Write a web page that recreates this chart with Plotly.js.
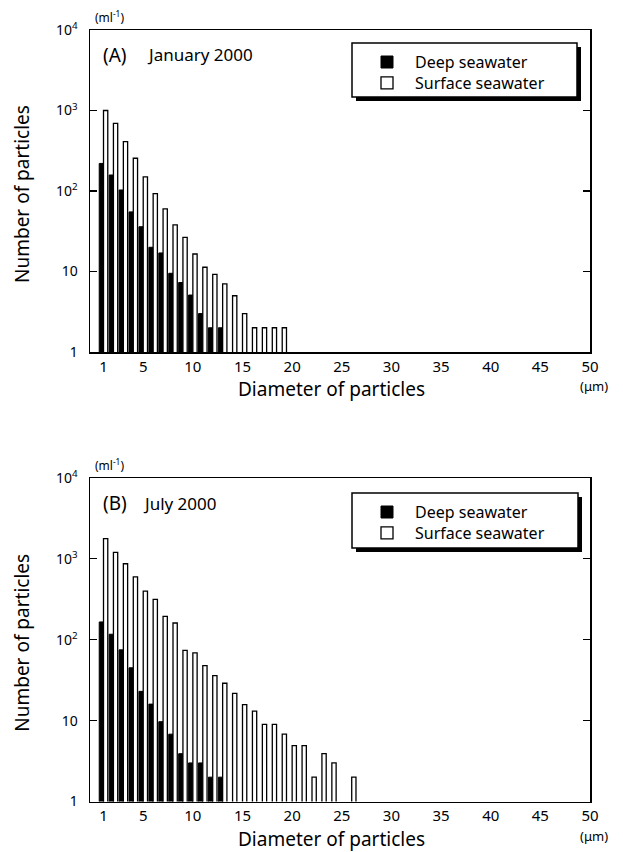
<!DOCTYPE html>
<html>
<head>
<meta charset="utf-8">
<script src="https://cdn.plot.ly/plotly-3.0.1.min.js"></script>
<style>html,body{margin:0;padding:0;background:#fff;}</style>
</head>
<body>
<div id="chart" style="width:623px;height:852px;"></div>
<script>
// ---- data (particle diameter in µm, number of particles per ml) ----
const deepJanDiam = [1,2,3,4,5,6,7,8,9,10,11,12,13];
const deepJan     = [220,158,103,55,36,20,17,9.5,7.3,5.1,3,2,2];
const surfJanDiam = [1,2,3,4,5,6,7,8,9,10,11,12,13,14,15,16,17,18,19];
const surfJan     = [1000,690,410,255,150,93,60,38,26.6,16.5,11.3,9.2,7,5,3,2,2,2,2];

const deepJulDiam = [1,2,3,4,5,6,7,8,9,10,11,12,13];
const deepJul     = [166,117,75,45,23,16,9.7,6.8,3.9,3,3,2,2];
const surfJulDiam = [1,2,3,4,5,6,7,8,9,10,11,12,13,14,15,16,17,18,19,20,21,22,23,24,26];
const surfJul     = [1780,1200,870,600,400,315,195,161,74,69,48,36,29,21.7,15.8,13.1,9,9,6.8,4.9,4.9,2,3.9,3,2];

const xTickVals = [1,5,10,15,20,25,30,35,40,45,50];
const yTickVals = [1,10,100,1000,10000];
const yTickText = ['1','10','10<sup>2</sup>','10<sup>3</sup>','10<sup>4</sup>'];
const seriesNames = ['Deep seawater','Surface seawater'];
const panelLabels = ['(A)','(B)'];
const panelDates = ['January 2000','July 2000'];
const xTitle = 'Diameter of particles';
const yTitle = 'Number of particles';
const yUnit = '(ml<sup>-1</sup>)';
const xUnit = '(\u03bcm)';

// ---- layout helpers ----
const W = 623, H = 852;
const px = x => x / W;
const py = y => 1 - y / H;
const FONT = 'Noto Sans, DejaVu Sans, sans-serif';

const deepStyle = {color:'black', line:{color:'black', width:1}};
const surfStyle = {color:'white', line:{color:'black', width:1.3}};

const traces = [
  {type:'bar', x:deepJanDiam, y:deepJan, name:seriesNames[0], marker:deepStyle, xaxis:'x', yaxis:'y'},
  {type:'bar', x:surfJanDiam, y:surfJan, name:seriesNames[1], marker:surfStyle, xaxis:'x', yaxis:'y'},
  {type:'bar', x:deepJulDiam, y:deepJul, name:seriesNames[0], marker:deepStyle, xaxis:'x2', yaxis:'y2'},
  {type:'bar', x:surfJulDiam, y:surfJul, name:seriesNames[1], marker:surfStyle, xaxis:'x2', yaxis:'y2'}
];

// panel geometry (px)
const panels = [
  {top:30, bottom:352, left:90, right:590},
  {top:478, bottom:801.5, left:90, right:590}
];

function xAxis(p, anchor){
  return {
    domain:[px(p.left), px(p.right)], range:[-0.36, 50], anchor:anchor,
    tickvals:xTickVals, ticks:'', showgrid:false, zeroline:false,
    showline:true, linecolor:'black', linewidth:1.5, mirror:true,
    tickfont:{family:FONT, size:15, color:'black'}
  };
}
function yAxis(p, anchor){
  return {
    domain:[py(p.bottom), py(p.top)], type:'log', range:[0,4], anchor:anchor,
    tickvals:yTickVals, ticktext:yTickText, ticks:'inside', ticklen:7, tickwidth:1.2, tickcolor:'black',
    showgrid:false, zeroline:false, showline:true, linecolor:'black', linewidth:1.5, mirror:'ticks',
    ticklabelstandoff:8,
    tickfont:{family:FONT, size:14, color:'black'}
  };
}

const shapes = [];
const annotations = [];
const legendBoxes = [
  {l:352, r:577, t:43, b:97, mid:72.4},
  {l:352, r:578, t:493, b:548, mid:522.4}
];
const LEG_LINE = 16 * 1.3; // line spacing of the two-line legend text

panels.forEach((p, i) => {
  const lb = legendBoxes[i];
  const row1 = lb.mid - LEG_LINE / 2, row2 = lb.mid + LEG_LINE / 2;
  // legend shadow + box
  shapes.push({type:'rect', xref:'paper', yref:'paper', x0:px(lb.l+4), x1:px(lb.r+4), y0:py(lb.b+4), y1:py(lb.t+4), fillcolor:'black', line:{width:0}, layer:'above'});
  shapes.push({type:'rect', xref:'paper', yref:'paper', x0:px(lb.l), x1:px(lb.r), y0:py(lb.b), y1:py(lb.t), fillcolor:'white', line:{color:'black', width:1.5}, layer:'above'});
  // legend symbols
  shapes.push({type:'rect', xref:'paper', yref:'paper', x0:px(381), x1:px(393), y0:py(row1+6), y1:py(row1-6), fillcolor:'black', line:{color:'black', width:1}, layer:'above'});
  shapes.push({type:'rect', xref:'paper', yref:'paper', x0:px(381), x1:px(393), y0:py(row2+6), y1:py(row2-6), fillcolor:'white', line:{color:'black', width:1.3}, layer:'above'});
  annotations.push({xref:'paper', yref:'paper', x:px(413), y:py(lb.mid), xanchor:'left', yanchor:'middle', align:'left', showarrow:false, text:seriesNames[0] + '<br>' + seriesNames[1], font:{family:FONT, size:16, color:'black'}});

  // panel label + date
  const ly = p.top + 25;
  annotations.push({xref:'paper', yref:'paper', x:px(101), y:py(ly), xanchor:'left', yanchor:'middle', showarrow:false, text:panelLabels[i], font:{family:FONT, size:19, color:'black'}});
  annotations.push({xref:'paper', yref:'paper', x:px(i===0?145:141), y:py(ly), xanchor:'left', yanchor:'middle', showarrow:false, text:panelDates[i], font:{family:FONT, size:17, color:'black'}});

  // units
  annotations.push({xref:'paper', yref:'paper', x:px(93), y:py(p.top-13), xanchor:'left', yanchor:'middle', showarrow:false, text:yUnit, font:{family:FONT, size:12, color:'black'}});
  annotations.push({xref:'paper', yref:'paper', x:px(594), y:py(p.bottom+34), xanchor:'center', yanchor:'middle', showarrow:false, text:xUnit, font:{family:FONT, size:13, color:'black'}});

  // axis titles
  annotations.push({xref:'paper', yref:'paper', x:px(331), y:py(p.bottom+37), xanchor:'center', yanchor:'middle', showarrow:false, text:xTitle, font:{family:FONT, size:19, color:'black'}});
  annotations.push({xref:'paper', yref:'paper', x:px(22), y:py((p.top+p.bottom)/2+3), xanchor:'center', yanchor:'middle', showarrow:false, textangle:-90, text:yTitle, font:{family:FONT, size:19, color:'black'}});
});

const layout = {
  width:W, height:H, margin:{l:0, r:0, t:0, b:0},
  paper_bgcolor:'white', plot_bgcolor:'white',
  showlegend:false, barmode:'group', bargap:0.14, bargroupgap:0,
  xaxis:xAxis(panels[0], 'y'), yaxis:yAxis(panels[0], 'x'),
  xaxis2:xAxis(panels[1], 'y2'), yaxis2:yAxis(panels[1], 'x2'),
  shapes:shapes, annotations:annotations,
  font:{family:FONT, color:'black'}
};

Plotly.newPlot('chart', traces, layout, {displayModeBar:false, staticPlot:true});
</script>
</body>
</html>
